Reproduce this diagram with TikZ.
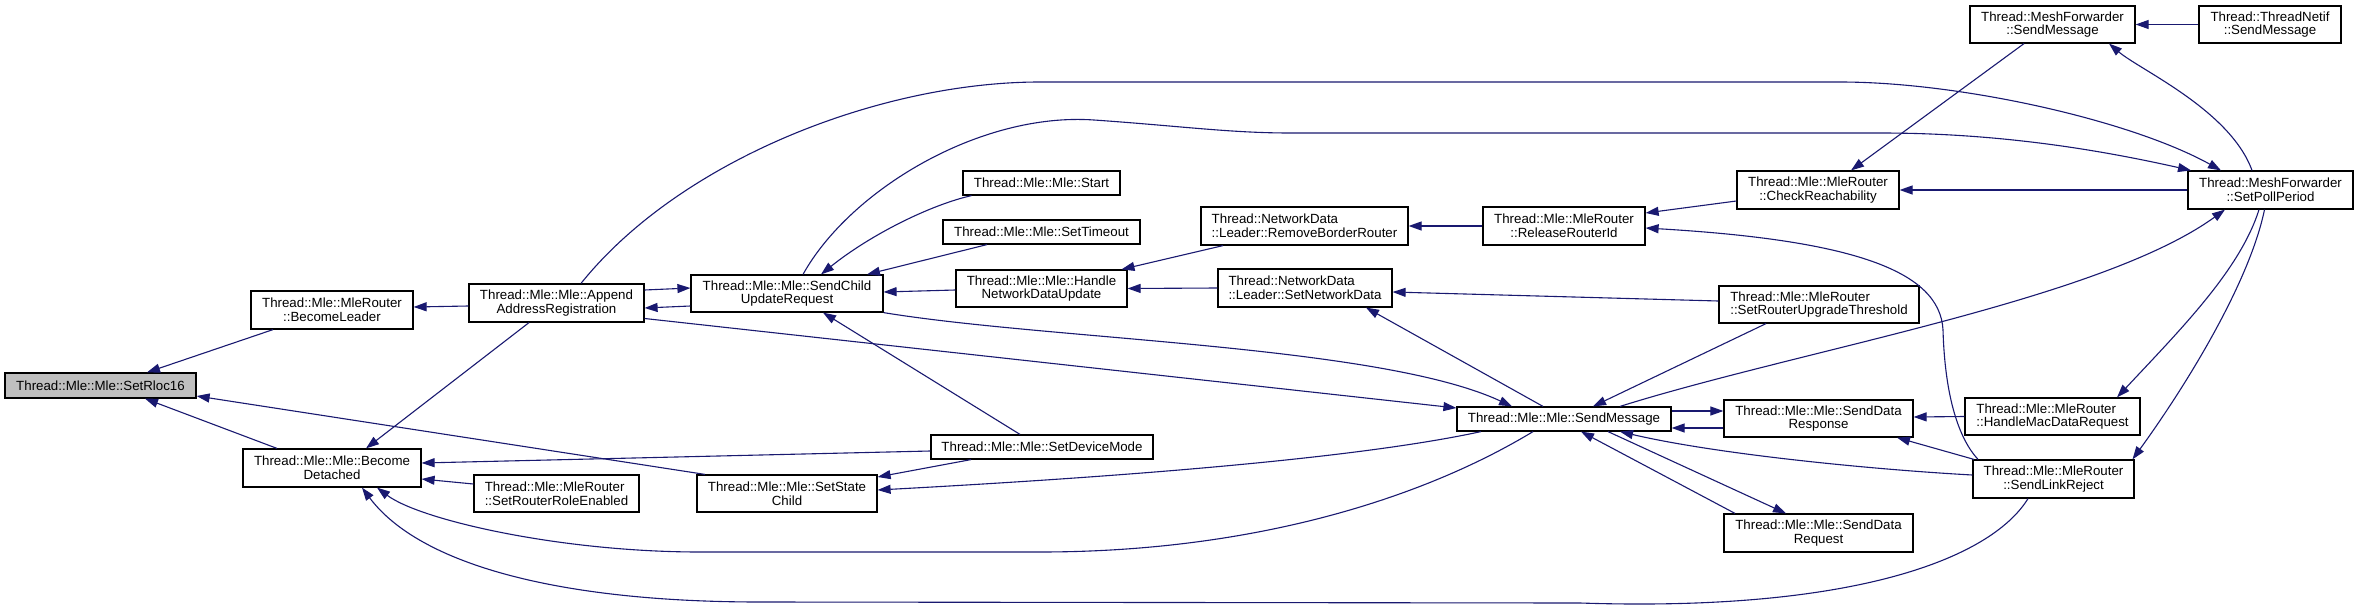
\documentclass[tikz,border=0pt]{standalone}
\usepackage{fontspec}
\setmainfont{Liberation Sans}
\usetikzlibrary{arrows.meta}
\definecolor{edgecol}{HTML}{191970}
\definecolor{rootfill}{HTML}{BFBFBF}
\begin{document}
\begin{tikzpicture}[x=1pt,y=-1pt,
  fnode/.style={draw=black, line width=1.2pt, fill=white, inner sep=0pt, align=center,
    font=\fontsize{13.3}{13.6}\selectfont},
  conn/.style={draw=edgecol, line width=1.1pt, {Triangle[length=13pt,width=9pt]}-}]
\fill[white] (0,0) rectangle (2358,610);
\useasboundingbox (0,0) rectangle (2358,610);
% nodes
\node[fnode, fill=rootfill, minimum width=191pt, minimum height=25pt] (rloc) at (100.5,385.5) {Thread::Mle::Mle::SetRloc16};
\node[fnode, minimum width=162pt, minimum height=38pt] (leader) at (332,310) {Thread::Mle::MleRouter\\::BecomeLeader};
\node[fnode, minimum width=178pt, minimum height=38pt] (detached) at (332,468) {Thread::Mle::Mle::Become\\Detached};
\node[fnode, minimum width=175pt, minimum height=38pt] (append) at (556.5,303) {Thread::Mle::Mle::Append\\AddressRegistration};
\node[fnode, align=left, minimum width=165pt, minimum height=37pt] (roleenabled) at (556.5,493.5) {Thread::Mle::MleRouter\\::SetRouterRoleEnabled};
\node[fnode, minimum width=192pt, minimum height=37pt] (childupd) at (787,293.5) {Thread::Mle::Mle::SendChild\\UpdateRequest};
\node[fnode, minimum width=180pt, minimum height=37pt] (statechild) at (787,493.5) {Thread::Mle::Mle::SetState\\Child};
\node[fnode, minimum width=157pt, minimum height=24pt] (start) at (1041.5,183) {Thread::Mle::Mle::Start};
\node[fnode, minimum width=197pt, minimum height=24pt] (timeout) at (1041.5,232) {Thread::Mle::Mle::SetTimeout};
\node[fnode, minimum width=171pt, minimum height=37pt] (handlend) at (1041.5,288.5) {Thread::Mle::Mle::Handle\\NetworkDataUpdate};
\node[fnode, minimum width=222pt, minimum height=24pt] (devmode) at (1042,447) {Thread::Mle::Mle::SetDeviceMode};
\node[fnode, align=left, minimum width=207pt, minimum height=38pt] (removebr) at (1304.5,226) {Thread::NetworkData\\::Leader::RemoveBorderRouter};
\node[fnode, align=left, minimum width=174pt, minimum height=38pt] (setnd) at (1305,288) {Thread::NetworkData\\::Leader::SetNetworkData};
\node[fnode, minimum width=162pt, minimum height=38pt] (release) at (1564,226) {Thread::Mle::MleRouter\\::ReleaseRouterId};
\node[fnode, minimum width=214pt, minimum height=24pt] (sendmsg) at (1564,419) {Thread::Mle::Mle::SendMessage};
\node[fnode, minimum width=162pt, minimum height=38pt] (checkreach) at (1818,190) {Thread::Mle::MleRouter\\::CheckReachability};
\node[fnode, align=left, minimum width=200pt, minimum height=37pt] (upgrade) at (1819,304.5) {Thread::Mle::MleRouter\\::SetRouterUpgradeThreshold};
\node[fnode, minimum width=189pt, minimum height=37pt] (dataresp) at (1818.5,418.5) {Thread::Mle::Mle::SendData\\Response};
\node[fnode, minimum width=189pt, minimum height=38pt] (datareq) at (1818.5,533) {Thread::Mle::Mle::SendData\\Request};
\node[fnode, minimum width=165pt, minimum height=37pt] (mfsend) at (2052.5,24.5) {Thread::MeshForwarder\\::SendMessage};
\node[fnode, minimum width=142pt, minimum height=37pt] (netifsend) at (2270,24.5) {Thread::ThreadNetif\\::SendMessage};
\node[fnode, minimum width=165pt, minimum height=38pt] (pollperiod) at (2270.5,190) {Thread::MeshForwarder\\::SetPollPeriod};
\node[fnode, align=left, minimum width=175pt, minimum height=37pt] (macdatareq) at (2052.5,416.5) {Thread::Mle::MleRouter\\::HandleMacDataRequest};
\node[fnode, minimum width=161pt, minimum height=38pt] (linkreject) at (2053.5,479) {Thread::Mle::MleRouter\\::SendLinkReject};
% edges
\draw[conn] ([xshift=46.5pt]rloc.north) -- ([xshift=-59pt]leader.south);
\draw[conn] ([xshift=44.5pt]rloc.south) -- ([xshift=-55pt]detached.north);
\draw[conn] ([yshift=-10.5pt]rloc.east) -- ([xshift=-82pt]statechild.north);
\draw[conn] ([yshift=3pt]leader.east) -- ([yshift=-3pt]append.west);
\draw[conn] ([xshift=34pt]detached.north) -- ([xshift=-27.5pt]append.south);
\draw[conn] ([yshift=5pt]detached.east) -- ([yshift=-4pt]devmode.west);
\draw[conn] ([yshift=-11pt]detached.east) -- ([yshift=9.5pt]roleenabled.west);
\draw[conn] ([xshift=45pt]detached.south) .. controls (420,520) and (560,552) .. (700,552) -- (1040,552) .. controls (1250,552) and (1420,500) .. ([xshift=-31pt]sendmsg.south);
\draw[conn] ([xshift=30pt]detached.south) .. controls (420,565) and (560,602) .. (760,602) -- (1580,603) .. controls (1850,612) and (1990,560) .. ([xshift=-25.5pt]linkreject.south);
\draw[conn] ([yshift=5.5pt]childupd.west) -- ([yshift=13pt]append.east);
\draw[conn] ([yshift=-5pt]append.east) -- ([yshift=-12.5pt]childupd.west);
\draw[conn] ([yshift=11pt]sendmsg.west) -- ([yshift=-15.5pt]append.east);
\draw[conn] ([xshift=-49.5pt]pollperiod.north) .. controls (2130,120) and (1960,82) .. (1840,82) -- (1040,82) .. controls (880,82) and (680,160) .. ([xshift=24.5pt]append.north);
\draw[conn] ([xshift=34pt]childupd.north) .. controls (870,235) and (930,205) .. ([xshift=-70pt]start.south);
\draw[conn] ([xshift=80pt]childupd.north) -- ([xshift=-54.5pt]timeout.south);
\draw[conn] ([yshift=1.5pt]childupd.east) -- ([yshift=-1.5pt]handlend.west);
\draw[conn] ([xshift=36pt]childupd.south) -- ([xshift=-22pt]devmode.north);
\draw[conn] ([xshift=-52pt]sendmsg.north) .. controls (1380,345) and (1050,340) .. (childupd.south east);
\draw[conn] ([xshift=-79.5pt]pollperiod.north) .. controls (2100,150) and (2000,133) .. (1880,133) -- (1290,133) .. controls (1230,133) and (1180,126) .. (1094,120) .. controls (980,112) and (850,190) .. ([xshift=16pt]childupd.north);
\draw[conn] ([xshift=80pt]handlend.north) -- ([xshift=-81.5pt]removebr.south);
\draw[conn] (handlend.east) -- (setnd.west);
\draw[conn] (removebr.east) -- (release.west);
\draw[conn] ([yshift=-4pt]setnd.east) -- ([yshift=3.5pt]upgrade.west);
\draw[conn] ([xshift=61pt]setnd.south) -- ([xshift=-21pt]sendmsg.north);
\draw[conn] ([yshift=13pt]release.east) -- ([yshift=-11pt]checkreach.west);
\draw[conn] ([yshift=-2pt]release.east) .. controls (1850,240) and (1940,270) .. (1943,330) .. controls (1945,400) and (1960,440) .. ([xshift=-75.5pt]linkreject.north);
\draw[conn] (checkreach.east) -- (pollperiod.west);
\draw[conn] ([xshift=33pt]checkreach.north) -- ([xshift=-28.5pt]mfsend.south);
\draw[conn] (mfsend.east) -- (netifsend.west);
\draw[conn] ([xshift=56.5pt]mfsend.south) .. controls (2140,70) and (2230,110) .. ([xshift=-18.5pt]pollperiod.north);
\draw[conn] ([xshift=-45.5pt]pollperiod.south) .. controls (2100,300) and (1800,350) .. ([xshift=56pt]sendmsg.north);
\draw[conn] ([xshift=29pt]sendmsg.north) -- ([xshift=-53pt]upgrade.south);
\draw[conn] ([yshift=7.5pt]dataresp.west) -- ([yshift=8pt]sendmsg.east);
\draw[conn] ([yshift=-9pt]sendmsg.east) -- ([yshift=-9.5pt]dataresp.west);
\draw[conn] ([xshift=-32.5pt]datareq.north) -- ([xshift=44pt]sendmsg.south);
\draw[conn] ([xshift=17pt]sendmsg.south) -- ([xshift=-83.5pt]datareq.north);
\draw[conn] ([xshift=56pt]sendmsg.south) .. controls (1720,455) and (1880,470) .. ([yshift=4pt]linkreject.west);
\draw[conn] ([yshift=16.5pt]statechild.east) -- ([xshift=-71pt]devmode.south);
\draw[conn] ([yshift=3.5pt]statechild.east) .. controls (1100,478) and (1350,460) .. ([xshift=-83pt]sendmsg.south);
\draw[conn] ([yshift=1.5pt]dataresp.east) -- (macdatareq.west);
\draw[conn] ([xshift=78.5pt]dataresp.south) -- ([xshift=-79.5pt]linkreject.north);
\draw[conn] ([xshift=64.5pt]macdatareq.north) .. controls (2180,330) and (2240,270) .. ([xshift=-11.5pt]pollperiod.south);
\draw[conn] ([xshift=79pt]linkreject.north) .. controls (2190,380) and (2250,280) .. ([xshift=-6pt]pollperiod.south);
\end{tikzpicture}
\end{document}
